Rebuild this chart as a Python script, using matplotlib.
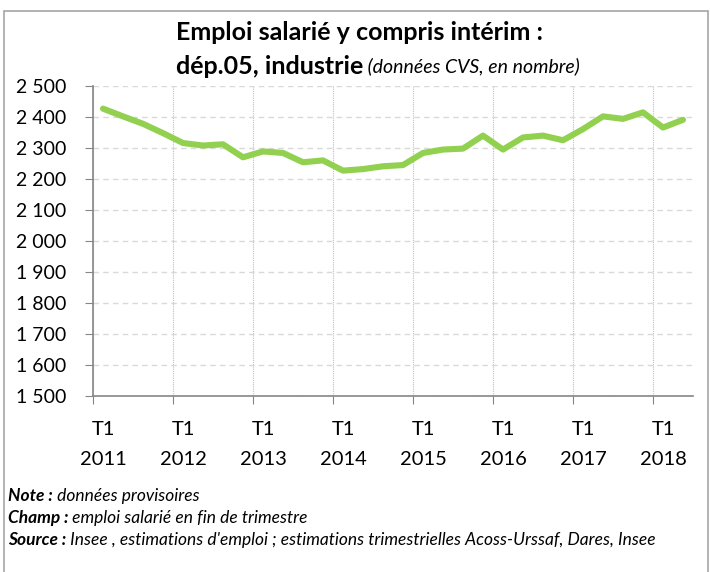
import matplotlib
matplotlib.use("Agg")
import matplotlib.pyplot as plt
from matplotlib.patches import Rectangle

plt.rcParams['font.family'] = ['Lato', 'DejaVu Sans']

quarters = ["T1", "T2", "T3", "T4"]
years = [2011, 2012, 2013, 2014, 2015, 2016, 2017, 2018]
values = [2427, 2402, 2378, 2348, 2316, 2308, 2312, 2270, 2289, 2284,
          2254, 2260, 2227, 2232, 2241, 2245, 2284, 2295, 2298, 2340,
          2295, 2334, 2340, 2325, 2361, 2402, 2394, 2415, 2366, 2391]
yticks = [1500, 1600, 1700, 1800, 1900, 2000, 2100, 2200, 2300, 2400, 2500]

labels = []
for y in years:
    for q in quarters:
        labels.append(f"{q}\n{y}" if q == "T1" else "")
labels = labels[:len(values)]

fig = plt.figure(figsize=(7.10, 5.72), dpi=100)
W, H = 710, 572
ax = fig.add_axes([93 / W, 1 - 396 / H, 600 / W, 310 / H])

x = list(range(len(values)))
ax.plot(x, values, color="#92D050", linewidth=4.4, solid_capstyle='round', solid_joinstyle='round', zorder=3)

ax.set_ylim(1500, 2500)
ax.set_xlim(-0.5, len(values) - 0.5)
ax.set_yticks(yticks)
ax.set_yticklabels([f"{v:,}".replace(",", " ") for v in yticks], fontsize=14)

major = [i - 0.5 for i in range(0, len(values), 4)]
ax.set_xticks(major)
ax.set_xticklabels([""] * len(major))
lab_pos = [i for i, l in enumerate(labels) if l]
ax.set_xticks(lab_pos, minor=True)
ax.set_xticklabels([labels[i] for i in lab_pos], minor=True, fontsize=14.5, linespacing=1.9)
ax.tick_params(axis='x', which='minor', length=0, pad=18)
ax.tick_params(axis='x', which='major', length=6, color="#868686", direction='out')
ax.tick_params(axis='y', length=6, color="#868686", direction='out', pad=13)

ax.grid(axis='y', color="#D9D9D9", linestyle=(0, (4, 3)), linewidth=1.0)
ax.grid(axis='x', which='major', color="#BFBFBF", linestyle=(0, (1, 1)), linewidth=0.8)
ax.set_axisbelow(True)
for s in ['top', 'right']:
    ax.spines[s].set_visible(False)
for s in ['left', 'bottom']:
    ax.spines[s].set_color("#868686")
    ax.spines[s].set_linewidth(1.2)

fig.patches.append(Rectangle((4 / W, -0.05), 704 / W, 1.05 - 11 / H, transform=fig.transFigure,
                             fill=False, edgecolor="#A6A6A6", linewidth=1.2))

fig.text(360 / W, 1 - 33 / H, "Emploi salarié y compris intérim :", ha='center', va='center',
         fontsize=18, fontweight='bold')
fig.canvas.draw()
r = fig.canvas.get_renderer()
t_a = fig.text(0, 1 - 66 / H, "dép.05, industrie", ha='left', va='center', fontsize=18, fontweight='bold')
t_b = fig.text(0, 1 - 66 / H, " (données CVS, en nombre)", ha='left', va='center', fontsize=14, style='italic')
wa = t_a.get_window_extent(r).width
wb = t_b.get_window_extent(r).width
start = 378 - (wa + wb) / 2
t_a.set_x(start / W)
t_b.set_x((start + wa) / W)

notes = [("Note :", " données provisoires"),
         ("Champ :", " emploi salarié en fin de trimestre"),
         ("Source :", " Insee , estimations d'emploi ; estimations trimestrielles Acoss-Urssaf, Dares, Insee")]
ys = [496, 518, 540]
for (b, t), yy in zip(notes, ys):
    tb = fig.text(8 / W, 1 - yy / H, b, ha='left', va='center', fontsize=12.5, fontweight='bold', style='italic')
    wbb = tb.get_window_extent(r).width
    fig.text((8 + wbb) / W, 1 - yy / H, t, ha='left', va='center', fontsize=12.5, style='italic')

fig.savefig("out.png", dpi=100)
